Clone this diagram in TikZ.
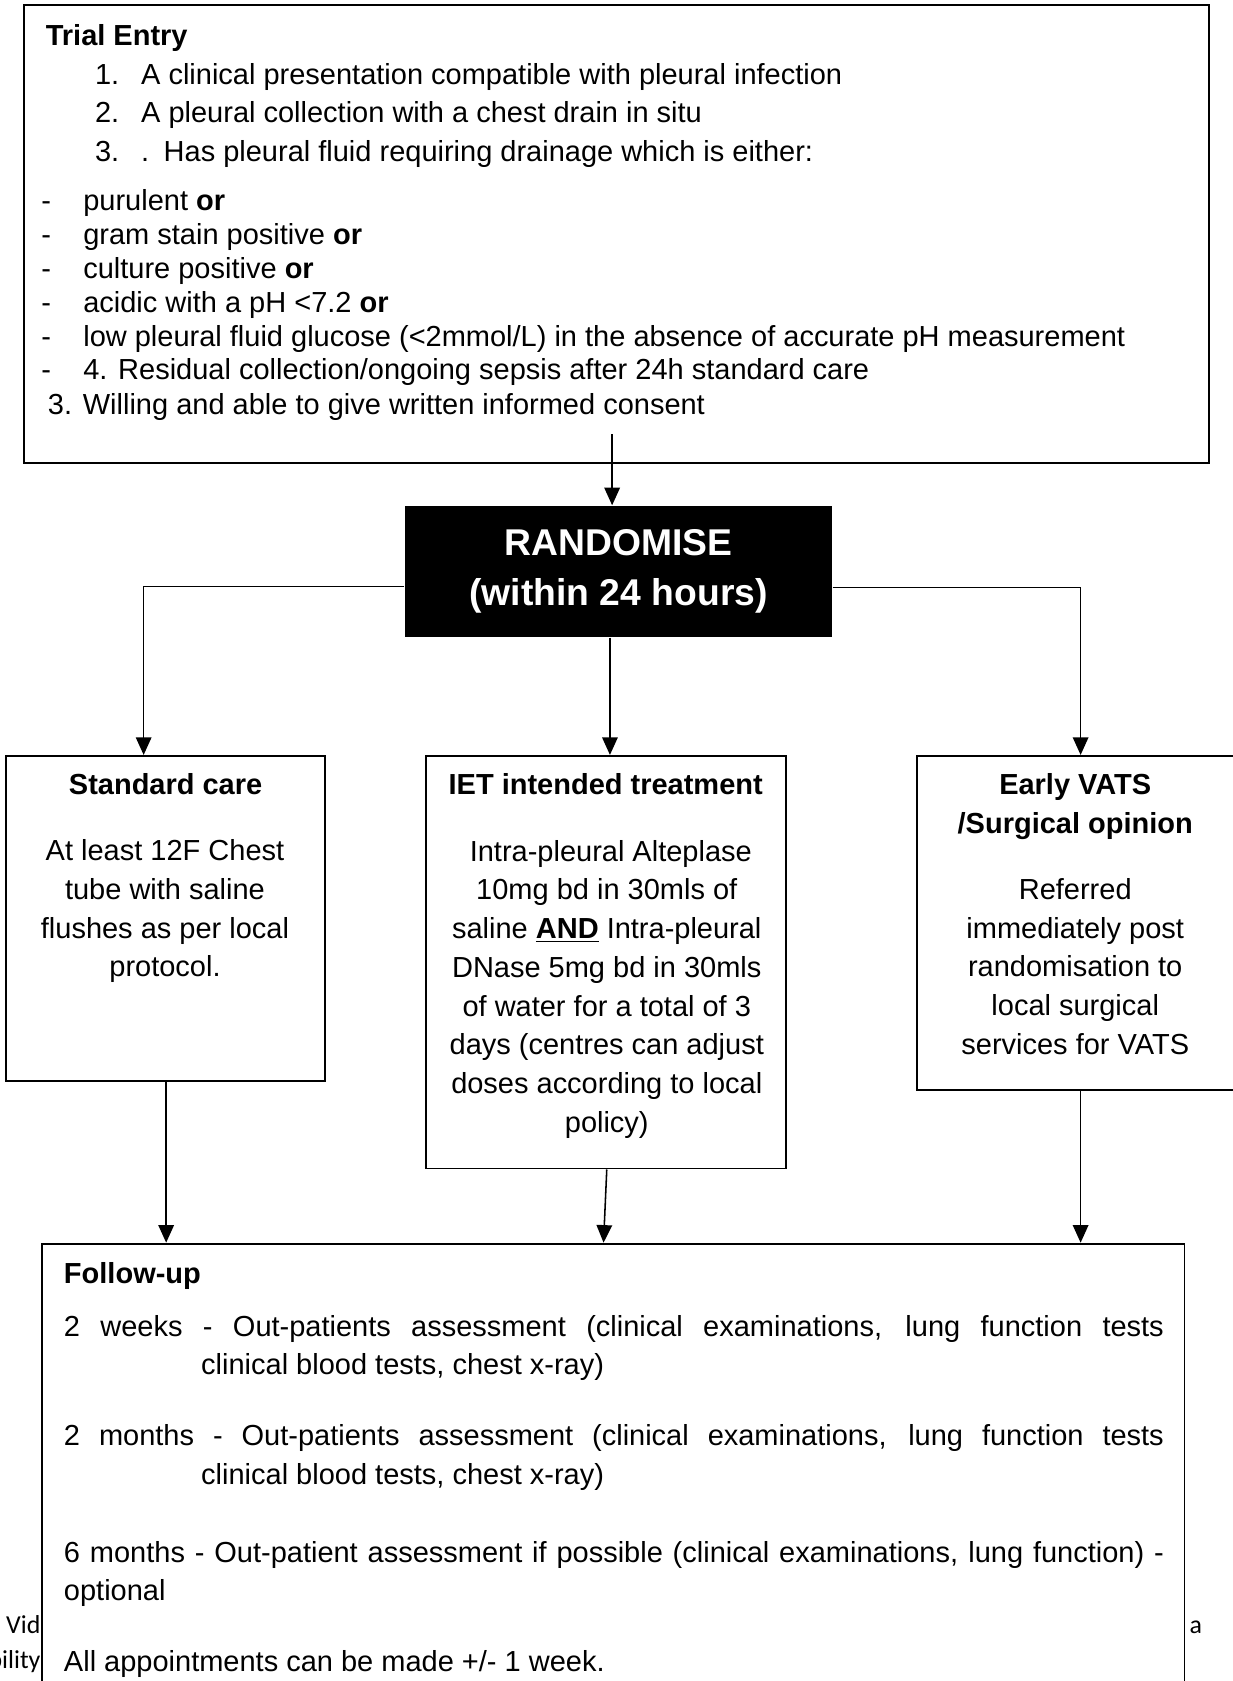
\documentclass[tikz,border=0pt]{standalone}
\usepackage{fontspec}
\setmainfont{Liberation Sans}
\newfontfamily\calfont{Carlito}
\usetikzlibrary{arrows.meta}
\tikzset{
  box/.style={draw, line width=0.9pt, inner sep=0pt},
  ln/.style={anchor=base west, inner sep=0pt, font=\fontsize{14}{16}\selectfont},
  lnb/.style={anchor=base west, inner sep=0pt, font=\fontsize{14}{16}\selectfont\bfseries},
  body/.style={anchor=base, inner sep=0pt, align=center, font=\fontsize{14}{18.7}\selectfont},
  head/.style={anchor=base, inner sep=0pt, align=center, font=\fontsize{14}{18.7}\selectfont\bfseries},
  frag/.style={inner sep=0pt, font=\fontsize{12.5}{14}\calfont},
}

\begin{document}
\begin{tikzpicture}[line width=0.75pt,>={Triangle[length=8.5pt,width=7.5pt]}]
\useasboundingbox (0,0) rectangle (20.92,28.53);
% Trial entry
\node[box, minimum width=20.12cm, minimum height=7.77cm] (entry) at (10.46,24.555) {};
\node[lnb] (te) at (0.764,27.758) {Trial Entry};
\node[ln] (n1) at (1.601,27.103) {1.};
\node[ln] (t1) at (2.383,27.103) {A clinical presentation compatible with pleural infection};
\node[ln] (n2) at (1.601,26.448) {2.};
\node[ln] (t2) at (2.383,26.448) {A pleural collection with a chest drain in situ};
\node[ln] (n3) at (1.601,25.793) {3.};
\node[ln] (t3) at (2.383,25.793) {.\hspace{0.5em}Has pleural fluid requiring drainage which is either:};
% criteria
\node[ln] (d1) at (0.691,24.956) {-};
\node[ln] (c1) at (1.401,24.956) {purulent \textbf{or}};
\node[ln] (d2) at (0.691,24.374) {-};
\node[ln] (c2) at (1.401,24.374) {gram stain positive \textbf{or}};
\node[ln] (d3) at (0.691,23.810) {-};
\node[ln] (c3) at (1.401,23.810) {culture positive \textbf{or}};
\node[ln] (d4) at (0.691,23.227) {-};
\node[ln] (c4) at (1.401,23.227) {acidic with a pH <7.2 \textbf{or}};
\node[ln] (d5) at (0.691,22.645) {-};
\node[ln] (c5) at (1.401,22.645) {low pleural fluid glucose (<2mmol/L) in the absence of accurate pH measurement};
\node[ln] (d6) at (0.691,22.081) {-};
\node[ln] (c6) at (1.401,22.081) {4. Residual collection/ongoing sepsis after 24h standard care};
\node[ln] (w3) at (0.801,21.499) {3. Willing and able to give written informed consent};
% Randomise
\node[fill=black, text=white, minimum width=7.242cm, minimum height=2.22cm, align=center,
      font=\fontsize{18}{24.3}\selectfont\bfseries] (rand) at (10.498,18.831) {RANDOMISE\\(within 24 hours)};
\coordinate (e1) at (10.389,21.160);
\draw[->] (e1) -- (e1 |- rand.north);
% the three arms (base = last line)
\node[box, minimum width=5.404cm, minimum height=5.512cm] (sc) at (2.811,12.945) {};
\node[head] (sch) at (2.811,15.04) {Standard care};
\node[body] (scb) at (2.80,11.951) {At least 12F Chest\\tube with saline\\flushes as per local\\protocol.};
\node[box, minimum width=6.113cm, minimum height=7.004cm] (iet) at (10.280,12.199) {};
\node[head] (ieth) at (10.280,15.04) {IET intended treatment};
\node[body] (ietb) at (10.298,9.312) {\ Intra-pleural Alteplase\\10mg bd in 30mls of\\saline \underline{\textbf{AND}} Intra-pleural\\DNase 5mg bd in 30mls\\of water for a total of 3\\days (centres can adjust\\doses according to local\\policy)};
\node[box, minimum width=5.644cm, minimum height=5.676cm] (vats) at (18.378,12.863) {};
\node[head] (vatsh) at (18.249,14.380) {Early VATS\\/Surgical opinion};
\node[body] (vatsb) at (18.249,10.636) {Referred\\immediately post\\randomisation to\\local surgical\\services for VATS};
\coordinate (lt) at (2.438,18.576);
\coordinate (mt) at (10.352,0);
\coordinate (rt) at (18.340,18.558);
\draw[->] (rand.west |- lt) -- (lt) -- (lt |- sc.north);
\draw[->] (rand.south -| mt) -- (mt |- iet.north);
\draw[->] (rand.east |- rt) -- (rt) -- (rt |- vats.north);
% text of the page behind
\node[frag, anchor=base east] (f1) at (0.70,0.80) {Vid};
\node[frag, anchor=base east] (f2) at (0.70,0.21) {bility};
\node[frag, anchor=base west] (f3) at (20.177,0.80) {a};
% Follow-up
\node[box, fill=white, minimum width=19.394cm, minimum height=7.923cm] (fu) at (10.407,3.4615) {};
\coordinate (a1) at (2.820,0);
\coordinate (a2) at (10.298,0);
\coordinate (a3) at (10.243,0);
\coordinate (a4) at (18.340,0);
\draw[->] (sc.south -| a1) -- (a1 |- fu.north);
\draw[->] (iet.south -| a2) -- (a3 |- fu.north);
\draw[->] (vats.south -| a4) -- (a4 |- fu.north);
\node[lnb] (fuh) at (1.073,6.744) {Follow-up};
\node[ln] (w2a) at (1.073,5.852) {\makebox[18.667cm][s]{2 weeks - Out-patients assessment (clinical examinations, lung function tests}};
\node[ln] (w2b) at (3.402,5.197) {clinical blood tests, chest x-ray)};
\node[ln] (m2a) at (1.073,3.996) {\makebox[18.667cm][s]{2 months - Out-patients assessment (clinical examinations, lung function tests}};
\node[ln] (m2b) at (3.402,3.341) {clinical blood tests, chest x-ray)};
\node[ln] (m6a) at (1.073,2.013) {\makebox[18.667cm][s]{6 months - Out-patient assessment if possible (clinical examinations, lung function) -}};
\node[ln] (m6b) at (1.073,1.358) {optional};
\node[ln] (all) at (1.073,0.157) {All appointments can be made +/- 1 week.};
\end{tikzpicture}
\end{document}
